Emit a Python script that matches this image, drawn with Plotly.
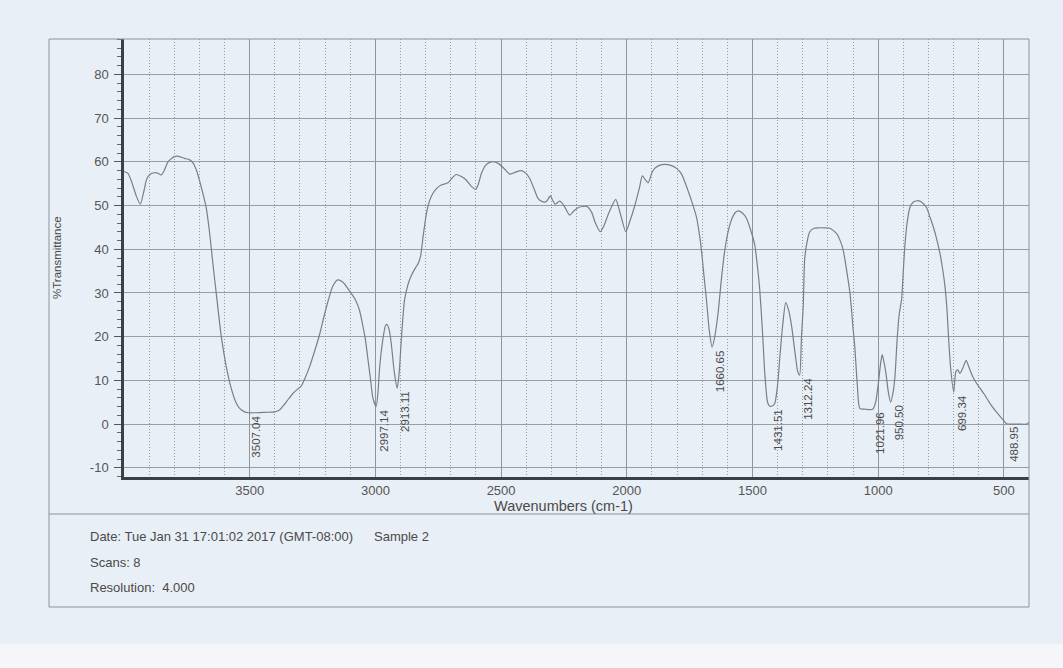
import plotly.graph_objects as go

# IR spectrum trace: wavenumber (cm-1) and %Transmittance
wavenumbers = [
    4000, 3985, 3970, 3950, 3935, 3920, 3910, 3895, 3880, 3865, 3852, 3840, 3825, 3800, 3785,
    3760, 3740, 3725, 3710, 3700, 3685, 3673, 3660, 3645, 3633, 3613, 3593, 3575, 3555, 3540,
    3520, 3507.04, 3480, 3440, 3400, 3380, 3365, 3345, 3328, 3310, 3295, 3280, 3262, 3240, 3222,
    3205, 3189, 3170, 3150, 3130, 3103, 3080, 3063, 3050, 3040, 3030, 3020, 3010, 2997.14, 2990,
    2983, 2970, 2960, 2954, 2945, 2937, 2925, 2913.11, 2905, 2897, 2884, 2870, 2857, 2840, 2831,
    2820, 2810, 2797, 2785, 2771, 2755, 2738, 2711, 2695, 2678, 2660, 2638, 2620, 2601, 2590,
    2578, 2560, 2539, 2513, 2490, 2466, 2445, 2419, 2400, 2386, 2370, 2355, 2346, 2330, 2320,
    2304, 2295, 2285, 2267, 2250, 2227, 2210, 2190, 2160, 2140, 2125, 2105, 2090, 2070, 2044,
    2025, 2004, 1990, 1968, 1950, 1938, 1925, 1915, 1900, 1889, 1870, 1849, 1825, 1802, 1782,
    1762, 1742, 1723, 1710, 1703, 1693, 1683, 1672, 1660.65, 1650, 1637, 1623, 1610, 1595, 1583,
    1570, 1557, 1540, 1524, 1505, 1491, 1480, 1471, 1460, 1451, 1440, 1431.51, 1420, 1411, 1400,
    1391, 1380, 1368, 1356, 1344, 1330, 1320, 1312.24, 1305, 1298, 1292, 1280, 1272, 1255, 1239,
    1215, 1192, 1165, 1150, 1139, 1125, 1112, 1100, 1093, 1083, 1073, 1050, 1021.96, 1010, 1000,
    990, 984, 978, 969, 960, 950.50, 940, 933, 925, 916, 907, 900, 894, 885, 874,
    860, 845, 834, 820, 807, 795, 781, 768, 754, 745, 734, 726, 721, 712, 699.34,
    691, 683, 675, 662, 650, 640, 625, 608, 580, 555, 530, 502, 488.95, 470, 440,
    410, 400,
]
transmittance = [
    57.8, 57.4, 55.5, 52.0, 50.3, 53.5, 56.0, 57.2, 57.5, 57.4, 57.0, 58.0, 60.0, 61.2, 61.3,
    60.8, 60.5, 59.7, 57.8, 55.8, 52.5, 49.5, 44.0, 36.0, 29.9, 20.0, 13.1, 8.5, 5.0, 3.6,
    2.8, 2.6, 2.6, 2.7, 2.8, 3.3, 4.3, 5.8, 7.0, 8.0, 8.7, 10.5, 13.1, 17.0, 20.5,
    24.5, 28.0, 31.5, 33.0, 32.5, 30.5, 28.5, 26.0, 22.5, 19.5, 15.0, 10.5, 6.0, 4.0, 7.0,
    13.0, 19.5, 22.5, 22.8, 21.5, 18.5, 12.0, 8.2, 12.0, 19.2, 28.4, 32.0, 34.0, 35.8, 36.6,
    38.5, 43.0, 48.2, 51.0, 52.8, 54.0, 54.7, 55.2, 56.3, 57.1, 56.7, 55.8, 54.5, 53.7, 55.0,
    57.4, 59.3, 60.0, 59.7, 58.6, 57.2, 57.6, 58.0, 57.3, 56.2, 54.0, 51.8, 51.2, 50.8, 50.9,
    52.2, 51.2, 50.3, 51.0, 50.0, 47.8, 48.8, 49.6, 49.8, 48.5, 46.0, 44.0, 45.5, 48.5, 51.4,
    48.0, 44.0, 46.0, 50.0, 54.0, 56.8, 55.8, 55.2, 57.5, 58.5, 59.2, 59.4, 59.2, 58.5, 57.2,
    54.3, 51.0, 47.4, 43.0, 39.8, 34.0, 28.4, 21.5, 17.6, 20.0, 25.3, 33.5, 39.8, 44.5, 46.8,
    48.3, 48.8, 48.3, 47.1, 44.0, 41.0, 36.0, 30.7, 21.0, 11.6, 5.0, 4.1, 4.2, 4.8, 9.0,
    15.4, 22.5, 27.8, 26.0, 22.3, 16.0, 12.0, 11.2, 20.0, 27.0, 38.0, 42.5, 44.0, 44.8, 44.9,
    44.9, 44.8, 43.6, 41.8, 39.8, 35.0, 29.9, 22.0, 17.7, 9.0, 3.6, 3.4, 3.4, 5.0, 9.0,
    14.0, 15.9, 14.5, 11.6, 7.5, 5.0, 7.5, 11.0, 19.0, 25.3, 28.4, 35.0, 40.6, 46.0, 49.5,
    50.8, 51.1, 51.0, 50.4, 49.5, 47.5, 45.2, 42.5, 39.0, 36.0, 31.4, 26.0, 20.8, 13.0, 7.3,
    12.0, 12.4, 11.6, 13.0, 14.6, 13.2, 11.0, 9.3, 7.0, 4.7, 2.8, 0.9, 0.1, 0.0, 0.0,
    0.0, 0.4,
]

# Labelled band positions and the transmittance at each band
peak_labels = ["3507.04", "2997.14", "2913.11", "1660.65", "1431.51",
               "1312.24", "1021.96", "950.50", "699.34", "488.95"]
peak_positions = [3507.04, 2997.14, 2913.11, 1660.65, 1431.51,
                  1312.24, 1021.96, 950.50, 699.34, 488.95]
peak_values = [2.6, 4.0, 8.2, 17.6, 4.1, 11.2, 3.4, 5.0, 7.3, 0.1]

x_ticks = [3500, 3000, 2500, 2000, 1500, 1000, 500]
y_ticks = [-10, 0, 10, 20, 30, 40, 50, 60, 70, 80]
y_tick_text = ["-10", "0", "10", "20", "30", "40", "50", "60", "70", "80"]

info_lines = ["Date: Tue Jan 31 17:01:02 2017 (GMT-08:00)", "Scans: 8", "Resolution:\u00a0 4.000"]
sample_name = "Sample 2"

W, H = 1063, 668
L, R, T, B = 124, 1029, 39, 477  # plot area in pixels


def px(xp):
    return (xp - L) / (R - L)


def py(yp):
    return (B - yp) / (B - T)


FONT = "Liberation Sans, Arial, sans-serif"
PAPER = "#e9eff6"
TEXT = "#4a4a4a"

fig = go.Figure()
fig.add_trace(go.Scatter(
    x=wavenumbers, y=transmittance, mode="lines",
    line=dict(color="#7b7f85", width=1.2, shape="spline", smoothing=0.6),
    hoverinfo="skip", showlegend=False,
))

annotations = []
for lab, xv, yv in zip(peak_labels, peak_positions, peak_values):
    annotations.append(dict(
        x=xv, y=yv, xref="x", yref="y", text=lab, showarrow=False,
        textangle=-90, xanchor="left", yanchor="top", xshift=0, yshift=-1,
        font=dict(family=FONT, size=11.5, color=TEXT),
    ))

# axis titles
annotations.append(dict(
    x=px(563), y=py(506), xref="paper", yref="paper", text="Wavenumbers (cm-1)",
    showarrow=False, xanchor="center", yanchor="middle",
    font=dict(family=FONT, size=14.5, color=TEXT),
))
annotations.append(dict(
    x=px(57), y=0.5, xref="paper", yref="paper", text="%Transmittance",
    showarrow=False, textangle=-90, xanchor="center", yanchor="middle",
    font=dict(family=FONT, size=11.5, color=TEXT),
))

# acquisition info block
for txt, ypx in zip(info_lines, [536, 562, 587]):
    annotations.append(dict(
        x=px(88), y=py(ypx), xref="paper", yref="paper", text=txt, showarrow=False,
        xanchor="left", yanchor="middle", font=dict(family=FONT, size=13, color=TEXT),
    ))
annotations.append(dict(
    x=px(372), y=py(536), xref="paper", yref="paper", text=sample_name, showarrow=False,
    xanchor="left", yanchor="middle", font=dict(family=FONT, size=13, color=TEXT),
))

frame_col = "#8d939b"
shapes = [
    # lighter strip along the bottom edge of the page
    dict(type="rect", xref="paper", yref="paper", x0=px(-5), x1=px(W + 5),
         y0=py(644), y1=py(H + 5), fillcolor="#f4f6f9", line=dict(width=0), layer="below"),
    # outer frame
    dict(type="rect", xref="paper", yref="paper", x0=px(49), x1=px(R),
         y0=py(607), y1=py(T), line=dict(color=frame_col, width=1), layer="above"),
    # separator between plot and info block
    dict(type="line", xref="paper", yref="paper", x0=px(49), x1=px(R),
         y0=py(514), y1=py(514), line=dict(color=frame_col, width=1.2)),
]

fig.update_layout(
    width=W, height=H,
    margin=dict(l=L, r=W - R, t=T, b=H - B),
    paper_bgcolor=PAPER, plot_bgcolor=PAPER,
    font=dict(family=FONT, color=TEXT),
    annotations=annotations, shapes=shapes, showlegend=False,
    xaxis=dict(
        range=[4000, 400], tickvals=x_ticks, ticktext=[str(v) for v in x_ticks],
        showgrid=True, gridcolor="#8f959c", gridwidth=1,
        minor=dict(dtick=100, tick0=0, showgrid=True, gridcolor="#959ba3",
                   griddash="1px,2px", gridwidth=1, ticks=""),
        showline=True, linecolor="#3c3f44", linewidth=2.5,
        ticks="", zeroline=False,
        tickfont=dict(family=FONT, size=13, color="#555"),
    ),
    yaxis=dict(
        range=[-12.1, 88.1], tickvals=y_ticks, ticktext=y_tick_text,
        showgrid=True, gridcolor="#979da4", gridwidth=1,
        ticks="outside", ticklen=7, tickwidth=1, tickcolor="#555",
        minor=dict(dtick=2, tick0=0, ticks="outside", ticklen=4, tickcolor="#666",
                   showgrid=False),
        showline=True, linecolor="#3c3f44", linewidth=2.5, zeroline=False,
        ticklabelstandoff=3,
        tickfont=dict(family=FONT, size=13, color="#555"),
    ),
)

fig.write_html("out.html")
